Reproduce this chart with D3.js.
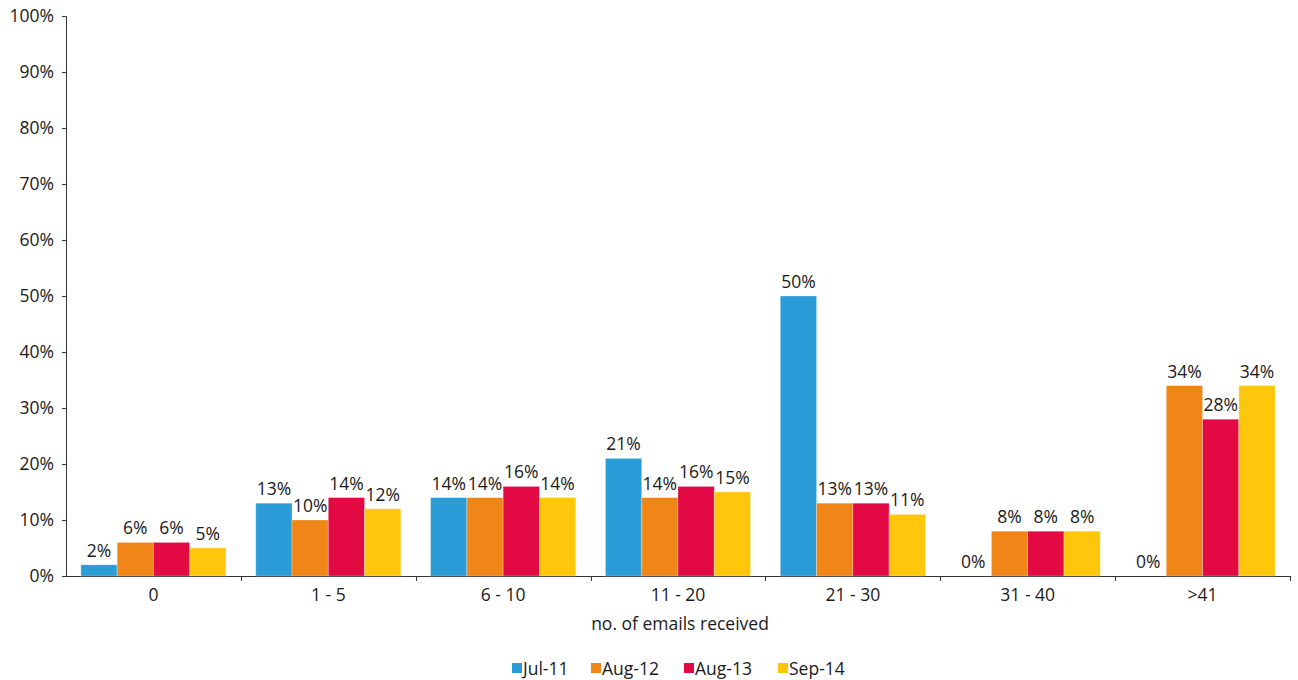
<!DOCTYPE html>
<html><head><meta charset="utf-8">
<script src="https://cdn.jsdelivr.net/npm/d3@7"></script>
<style>body{margin:0;background:#fff}text{font-family:"Open Sans","Noto Sans",sans-serif;fill:#1a1a1a}</style>
</head><body>
<svg id="c" width="1298" height="680"></svg>
<script>
const categories = ["0","1 - 5","6 - 10","11 - 20","21 - 30","31 - 40",">41"];
const seriesNames = ["Jul-11","Aug-12","Aug-13","Sep-14"];
const jul11 = [2,13,14,21,50,0,0];
const aug12 = [6,10,14,14,13,8,34];
const aug13 = [6,14,16,16,13,8,28];
const sep14 = [5,12,14,15,11,8,34];
const yTicks = [0,10,20,30,40,50,60,70,80,90,100];
const colors = ["#2a9dd8","#f08518","#e30a44","#ffc70b"];
const series = [jul11,aug12,aug13,sep14];

const FS = 17.5;
const svg = d3.select("#c");
const L=66, R=1290, T=16, B=576;
const x = d3.scaleBand().domain(categories).range([L,R]).paddingInner(0).paddingOuter(0);
const xs = d3.scaleBand().domain(seriesNames).range([0,x.bandwidth()]).paddingOuter(0.41).paddingInner(0);
const y = d3.scaleLinear().domain([0,100]).range([B,T]);

// y axis
const ya = svg.append("g").attr("transform",`translate(${L},0)`)
  .call(d3.axisLeft(y).tickValues(yTicks).tickFormat(d=>d+"%").tickSize(4).tickPadding(8));
ya.select(".domain").attr("stroke","#333");
ya.selectAll(".tick line").attr("stroke","#333");
ya.selectAll("text").attr("font-size",FS).style("font-family",'"Open Sans",sans-serif').attr("fill","#1a1a1a");

// x axis
const xa = svg.append("g").attr("transform",`translate(0,${B})`)
  .call(d3.axisBottom(x).tickSize(0).tickPadding(13));
xa.select(".domain").attr("stroke","#333").attr("d",`M${L},0.5H${R}`);
xa.selectAll("text").attr("font-size",FS).style("font-family",'"Open Sans",sans-serif').attr("fill","#1a1a1a");
// boundary ticks
categories.forEach((c,i)=>{
  const xx = Math.round(x(c)+x.bandwidth())+0.5;
  svg.append("line").attr("x1",xx).attr("x2",xx).attr("y1",B).attr("y2",B+5).attr("stroke","#333");
});

// bars
series.forEach((vals,si)=>{
  const g = svg.append("g");
  g.selectAll("rect").data(vals).join("rect")
    .attr("x",(d,i)=>x(categories[i])+xs(seriesNames[si]))
    .attr("width",xs.bandwidth())
    .attr("y",d=>y(d))
    .attr("height",d=>B-y(d))
    .attr("fill",colors[si])
    .attr("stroke","rgba(255,255,255,0.35)").attr("stroke-width",0.8);
  g.selectAll("text").data(vals).join("text")
    .attr("x",(d,i)=>x(categories[i])+xs(seriesNames[si])+xs.bandwidth()/2)
    .attr("y",d=>y(d)-8)
    .attr("text-anchor","middle").attr("font-size",FS)
    .text(d=>d+"%");
});

// x title
svg.append("text").attr("x",(L+R)/2+2).attr("y",630).attr("text-anchor","middle").attr("font-size",FS).text("no. of emails received");

// legend
const legX = [512,591,684,778];
seriesNames.forEach((n,i)=>{
  svg.append("rect").attr("x",legX[i]).attr("y",663).attr("width",10).attr("height",10).attr("fill",colors[i]);
  svg.append("text").attr("x",legX[i]+11).attr("y",675).attr("font-size",FS).text(n);
});
</script>
</body></html>
